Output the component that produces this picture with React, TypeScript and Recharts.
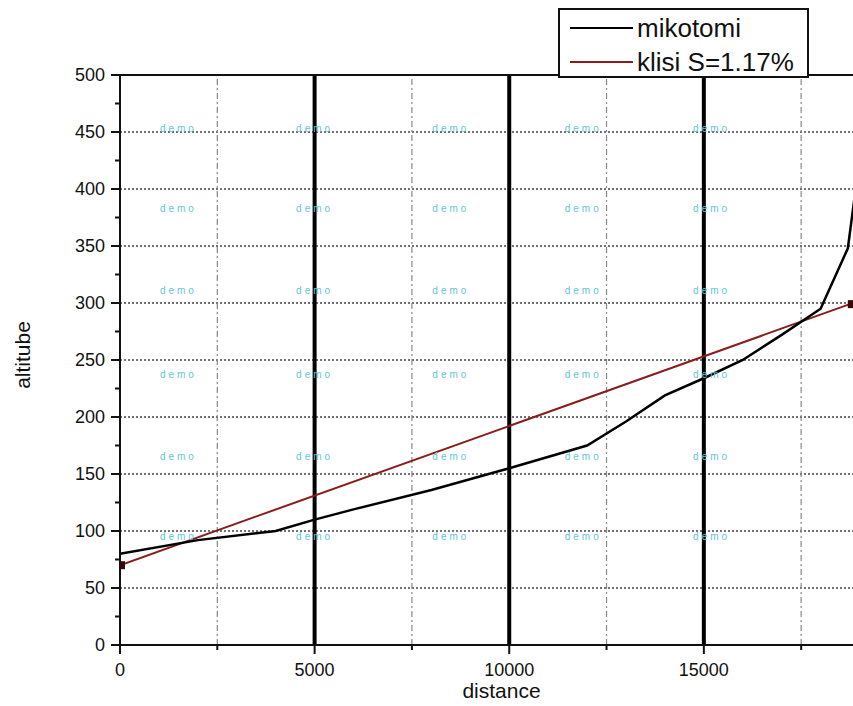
import React from 'react';
import { LineChart, Line, XAxis, YAxis, ReferenceLine, ReferenceDot, Label } from 'recharts';

// ---- data ----
const seriesNames = ['mikotomi', 'klisi S=1.17%'];
const mikotomiDistance = [0, 2000, 4000, 5000, 6000, 8000, 10000, 12000, 13000, 14000, 15000, 16000, 17000, 18000, 18700, 18900];
const mikotomiAltitude = [80, 92, 100, 110, 119, 136, 155, 175, 196, 219, 234, 250, 272, 295, 348, 400];
const klisiDistance = [0, 18750];
const klisiAltitude = [70, 299];

const xMajorTicks = [0, 5000, 10000, 15000];
const xMinorTicks = [2500, 7500, 12500, 17500];
const yMajorTicks = [0, 50, 100, 150, 200, 250, 300, 350, 400, 450, 500];
const yMinorTicks = [25, 75, 125, 175, 225, 275, 325, 375, 425, 475];
const yGridLines = [50, 100, 150, 200, 250, 300, 350, 400, 450];
const xThickLines = [5000, 10000, 15000];
const xDashedLines = [2500, 7500, 12500, 17500];
const watermarkX = [1500, 5000, 8500, 11900, 15200];
const watermarkY = [453, 383, 311, 237, 165, 95];
const watermarkText = 'demo';

const mikotomiData = mikotomiDistance.map((d, i) => ({ distance: d, altitude: mikotomiAltitude[i] }));
const klisiData = klisiDistance.map((d, i) => ({ distance: d, altitude: klisiAltitude[i] }));

const FONT = "'Liberation Sans', Arial, sans-serif";
const RED = '#8a1c1c';

const XTick = (props: any) => {
  const { x, y, payload } = props;
  const major = xMajorTicks.includes(payload.value);
  return (
    <g>
      <line x1={x} x2={x} y1={y} y2={y + (major ? 9 : 5)} stroke="#111" strokeWidth={2} />
      {major && (
        <text x={x} y={y + 25} dy="0.36em" textAnchor="middle" fontSize={18} fill="#111" fontFamily={FONT}>
          {payload.value}
        </text>
      )}
    </g>
  );
};

const YTick = (props: any) => {
  const { x, y, payload } = props;
  const major = yMajorTicks.includes(payload.value);
  return (
    <g>
      <line x1={x - (major ? 9 : 5)} x2={x} y1={y} y2={y} stroke="#111" strokeWidth={2} />
      {major && (
        <text x={x - 15} y={y} dy="0.36em" textAnchor="end" fontSize={18} fill="#111" fontFamily={FONT}>
          {payload.value}
        </text>
      )}
    </g>
  );
};

const EndDot = (props: any) => {
  const { cx, cy, index } = props;
  if (index !== 0 && index !== klisiData.length - 1) return <g key={`d${index}`} />;
  return <rect key={`d${index}`} x={cx - 2} y={cy - 4} width={7} height={8} fill="#3a0808" />;
};

export default function App() {
  const xTicks = [...xMajorTicks, ...xMinorTicks].sort((a, b) => a - b);
  const yTicks = [...yMajorTicks, ...yMinorTicks].sort((a, b) => a - b);
  return (
    <div style={{ position: 'absolute', left: 0, top: 0, width: 853, height: 706, overflow: 'hidden', background: '#fff' }}>
      <LineChart width={900} height={706} margin={{ top: 75, right: 21, bottom: 0, left: 0 }}>
        <XAxis
          type="number"
          dataKey="distance"
          domain={[0, 19500]}
          allowDataOverflow
          ticks={xTicks}
          interval={0}
          tickSize={0}
          tickMargin={0}
          tickLine={false}
          axisLine={{ stroke: '#111', strokeWidth: 2 }}
          tick={(p: any) => <XTick {...p} />}
          height={61}
        >
          <Label
            content={(p: any) => {
              const vb = p.viewBox || { x: 120, y: 645, width: 759, height: 61 };
              return (
                <text x={vb.x + vb.width / 2 + 2} y={vb.y + 45} dy="0.36em" textAnchor="middle" fontSize={21} fill="#111" fontFamily={FONT}>
                  distance
                </text>
              );
            }}
          />
        </XAxis>
        <YAxis
          type="number"
          dataKey="altitude"
          domain={[0, 500]}
          allowDataOverflow
          ticks={yTicks}
          interval={0}
          tickSize={0}
          tickMargin={0}
          tickLine={false}
          axisLine={{ stroke: '#111', strokeWidth: 2 }}
          tick={(p: any) => <YTick {...p} />}
          width={120}
        >
          <Label
            content={(p: any) => {
              const vb = p.viewBox || { x: 0, y: 75, width: 120, height: 570 };
              const cx = vb.x + 22;
              const cy = vb.y + vb.height / 2 - 5;
              return (
                <text x={cx} y={cy} dy="0.36em" textAnchor="middle" fontSize={21} fill="#111" fontFamily={FONT} transform={`rotate(-90, ${cx}, ${cy})`}>
                  altitube
                </text>
              );
            }}
          />
        </YAxis>

        {yGridLines.map((v) => (
          <ReferenceLine key={`h${v}`} y={v} stroke="#444" strokeWidth={1.5} strokeDasharray="2 2" />
        ))}
        {xDashedLines.map((v) => (
          <ReferenceLine key={`vd${v}`} x={v} stroke="#888" strokeWidth={1.2} strokeDasharray="6 3 2 3" />
        ))}
        {watermarkY.flatMap((yv) =>
          watermarkX.map((xv) => (
            <ReferenceDot
              key={`w${xv}-${yv}`}
              x={xv}
              y={yv}
              r={0}
              fill="none"
              stroke="none"
              label={{ value: watermarkText, position: 'center', fill: '#62c6d4', fontSize: 10, fontFamily: FONT, letterSpacing: 3 }}
            />
          ))
        )}
        {xThickLines.map((v) => (
          <ReferenceLine key={`vt${v}`} x={v} stroke="#000" strokeWidth={4} />
        ))}
        <ReferenceLine y={500} stroke="#111" strokeWidth={2} />

        <Line
          data={klisiData}
          dataKey="altitude"
          name={seriesNames[1]}
          type="linear"
          stroke={RED}
          strokeWidth={2}
          dot={(p: any) => <EndDot {...p} />}
          activeDot={false}
          isAnimationActive={false}
        />
        <Line
          data={mikotomiData}
          dataKey="altitude"
          name={seriesNames[0]}
          type="linear"
          stroke="#000"
          strokeWidth={2.5}
          dot={false}
          activeDot={false}
          isAnimationActive={false}
        />
      </LineChart>

      <div
        style={{
          position: 'absolute',
          left: 558,
          top: 8,
          width: 247,
          height: 66,
          border: '2px solid #111',
          background: '#fff',
          fontFamily: FONT,
          fontSize: 26,
          color: '#111',
        }}
      >
        {[
          { name: seriesNames[0], color: '#000' },
          { name: seriesNames[1], color: RED },
        ].map((s, i) => (
          <div key={s.name} style={{ position: 'absolute', left: 0, top: 2 + i * 34, height: 32, display: 'flex', alignItems: 'center', whiteSpace: 'nowrap' }}>
            <div style={{ marginLeft: 10, width: 63, height: 0, borderTop: `2.5px solid ${s.color}` }} />
            <span style={{ marginLeft: 4, lineHeight: '32px' }}>{s.name}</span>
          </div>
        ))}
      </div>
    </div>
  );
}
